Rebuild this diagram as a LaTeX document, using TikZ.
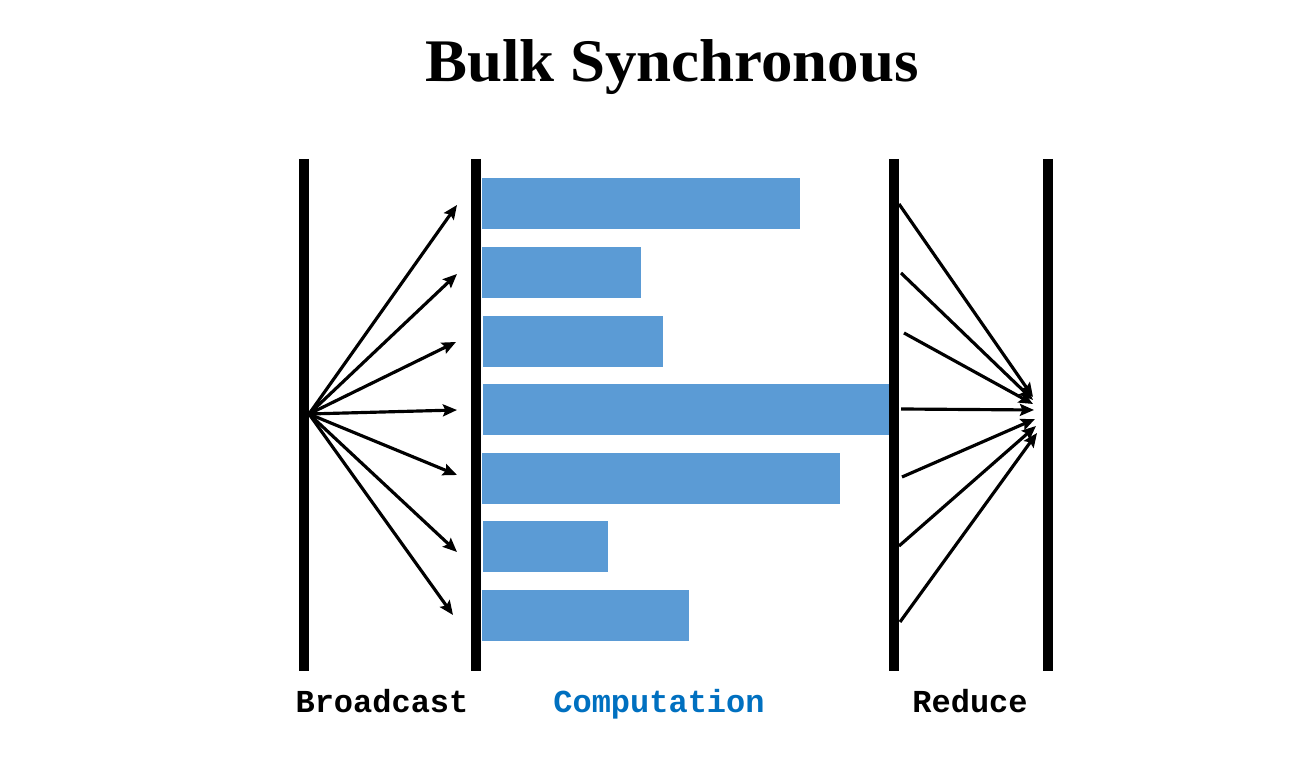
\documentclass[tikz,border=0pt]{standalone}
\usepackage{fontspec}
\setmainfont{Liberation Serif}
\setmonofont{Liberation Mono}
\usetikzlibrary{arrows.meta}
\definecolor{barblue}{HTML}{5B9BD5}
\definecolor{labelblue}{HTML}{0070C0}

\begin{document}
\begin{tikzpicture}[x=0.01cm,y=-0.01cm,
	wall/.style={line width=2.85pt},
	task/.style={fill=barblue},
	msg/.style={line width=0.9pt,-{Stealth[length=4pt,width=3.4pt,inset=0.7pt]}},
	phase/.style={font=\ttfamily\bfseries\fontsize{9.1}{11}\selectfont,anchor=base}]
	\useasboundingbox (0,0) rectangle (1315,774);
	%\draw[help lines] (0,0) grid[step=100] (1315,774);
	\node[anchor=base] (title) at (672,82) {\scalebox{1.04}[1]{\fontsize{17.2}{20}\selectfont\bfseries Bulk Synchronous}};
	% barriers
	\draw[wall] (304,159) -- (304,671);
	\draw[wall] (476,159) -- (476,671);
	\draw[wall] (894,159) -- (894,671);
	\draw[wall] (1048,159) -- (1048,671);
	% tasks
	\fill[task] (482,178) rectangle (800,229);
	\fill[task] (482,247) rectangle (641,298);
	\fill[task] (483,316) rectangle (663,367);
	\fill[task] (483,384) rectangle (889,435);
	\fill[task] (482,453) rectangle (840,504);
	\fill[task] (483,521) rectangle (608,572);
	\fill[task] (482,590) rectangle (689,641);
	% broadcast
	\coordinate (root) at (309,414);
	\coordinate (b1) at (457,205);
	\coordinate (b2) at (457,274);
	\coordinate (b3) at (456,342);
	\coordinate (b4) at (457,410);
	\coordinate (b5) at (457,475);
	\coordinate (b6) at (457,552);
	\coordinate (b7) at (453,615);
	\draw[msg] (root) -- (b1);
	\draw[msg] (root) -- (b2);
	\draw[msg] (root) -- (b3);
	\draw[msg] (root) -- (b4);
	\draw[msg] (root) -- (b5);
	\draw[msg] (root) -- (b6);
	\draw[msg] (root) -- (b7);
	% reduce
	\coordinate (r1) at (899,204);
	\coordinate (r2) at (901,273);
	\coordinate (r3) at (904,333);
	\coordinate (r4) at (901,409);
	\coordinate (r5) at (902,477);
	\coordinate (r6) at (899,546);
	\coordinate (r7) at (900,622);
	\coordinate (s1) at (1033,397);
	\coordinate (s2) at (1033,400);
	\coordinate (s3) at (1033,404);
	\coordinate (s4) at (1034,410);
	\coordinate (s5) at (1035,419);
	\coordinate (s6) at (1036,426);
	\coordinate (s7) at (1037,433);
	\draw[msg] (r1) -- (s1);
	\draw[msg] (r2) -- (s2);
	\draw[msg] (r3) -- (s3);
	\draw[msg] (r4) -- (s4);
	\draw[msg] (r5) -- (s5);
	\draw[msg] (r6) -- (s6);
	\draw[msg] (r7) -- (s7);
	% phases
	\node[phase] (bcast) at (382,713) {Broadcast};
	\node[phase,text=labelblue] (comp) at (659,713) {Computation};
	\node[phase] (red) at (970,713) {Reduce};
\end{tikzpicture}
\end{document}
